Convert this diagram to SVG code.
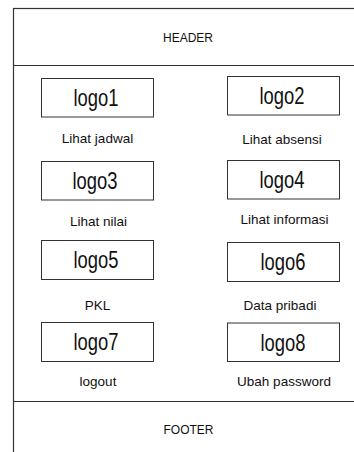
<svg xmlns="http://www.w3.org/2000/svg" width="354" height="452" viewBox="0 0 354 452">
<style>
.frame{fill:none;stroke:#333;stroke-width:1.2}
.box{fill:#fff;stroke:#333;stroke-width:1}
.logo{font-family:"Liberation Sans",Arial,sans-serif;font-size:23px;fill:#111;text-anchor:middle}
.lbl{font-family:"Liberation Sans",Arial,sans-serif;font-size:13.5px;fill:#111;text-anchor:middle}
.sec{font-family:"Liberation Sans",Arial,sans-serif;font-size:12px;fill:#111;text-anchor:middle}
</style>
<rect width="354" height="452" fill="#fff"/>
<g id="frame">
<rect class="frame" x="13.5" y="8.5" width="360" height="460"/>
<line class="frame" x1="13.5" y1="65.5" x2="354" y2="65.5"/>
<line class="frame" x1="13.5" y1="401.5" x2="354" y2="401.5"/>
</g>
<g id="header"><text class="sec" x="188" y="41.5">HEADER</text></g>
<g id="footer"><text class="sec" x="188.5" y="434">FOOTER</text></g>
<g id="logo1"><rect class="box" x="41.5" y="78.5" width="112" height="38.5"/><text class="logo" transform="translate(96,106) scale(0.8,1)">logo1</text><text class="lbl" x="97.5" y="143">Lihat jadwal</text></g>
<g id="logo2"><rect class="box" x="227.5" y="76.5" width="112" height="38.5"/><text class="logo" transform="translate(282,104) scale(0.8,1)">logo2</text><text class="lbl" x="282" y="144">Lihat absensi</text></g>
<g id="logo3"><rect class="box" x="41.5" y="161.5" width="112" height="38.5"/><text class="logo" transform="translate(95,189) scale(0.8,1)">logo3</text><text class="lbl" x="98.5" y="226">Lihat nilai</text></g>
<g id="logo4"><rect class="box" x="227.5" y="160.5" width="112" height="38.5"/><text class="logo" transform="translate(282,188) scale(0.8,1)">logo4</text><text class="lbl" x="284.5" y="224">Lihat informasi</text></g>
<g id="logo5"><rect class="box" x="41.5" y="240.5" width="112" height="39"/><text class="logo" transform="translate(96,268) scale(0.8,1)">logo5</text><text class="lbl" x="97.5" y="310">PKL</text></g>
<g id="logo6"><rect class="box" x="227.5" y="242.5" width="112" height="39"/><text class="logo" transform="translate(283,270) scale(0.8,1)">logo6</text><text class="lbl" x="280" y="310">Data pribadi</text></g>
<g id="logo7"><rect class="box" x="41.5" y="322.5" width="112" height="39"/><text class="logo" transform="translate(96,350) scale(0.8,1)">logo7</text><text class="lbl" x="98" y="386">logout</text></g>
<g id="logo8"><rect class="box" x="227.5" y="323" width="112" height="38.5"/><text class="logo" transform="translate(283,350.5) scale(0.8,1)">logo8</text><text class="lbl" x="284" y="386">Ubah password</text></g>
<g id="connectors"></g>
</svg>
